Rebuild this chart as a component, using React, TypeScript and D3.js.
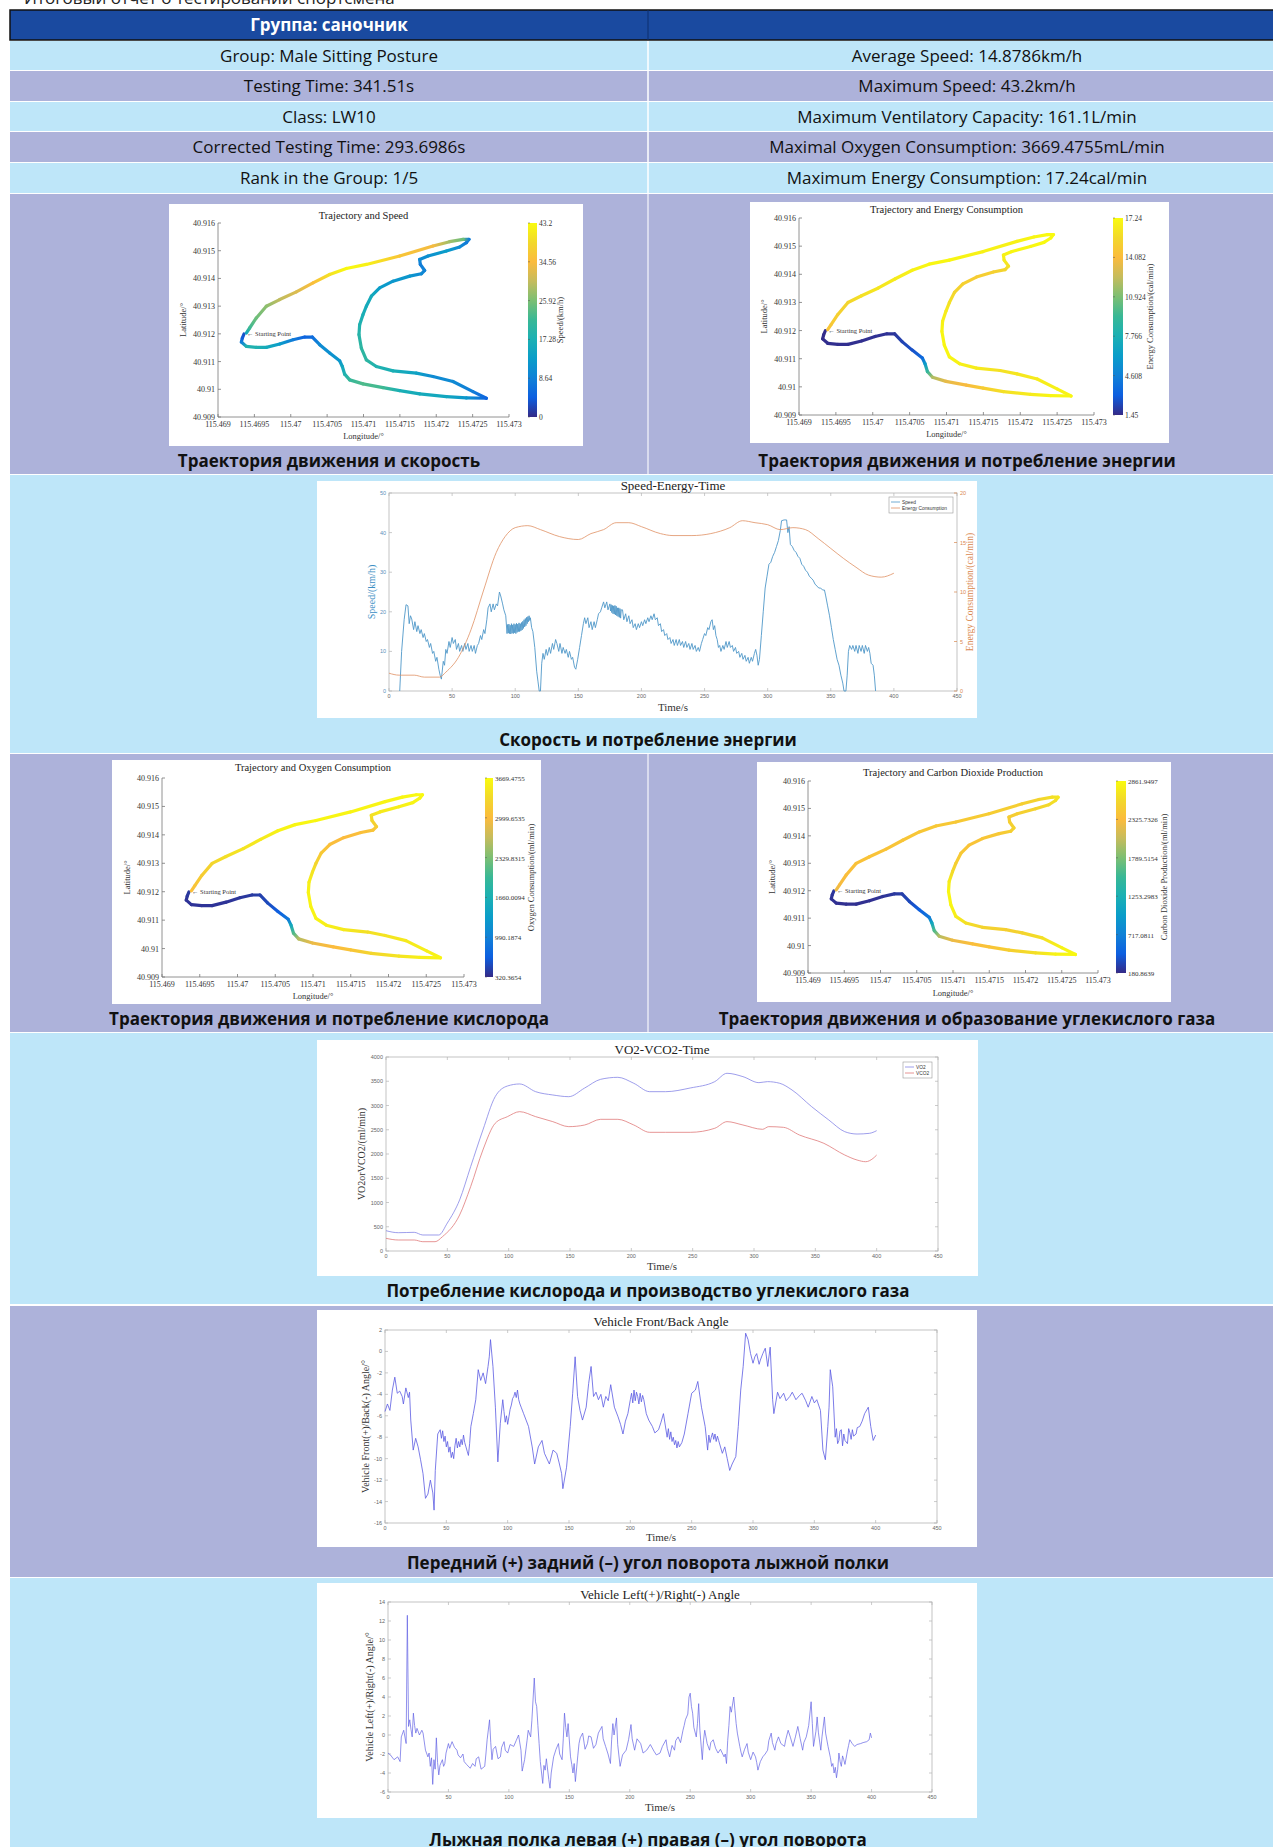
import * as d3 from "d3";

const W = 1273;
const H = 1847;

// ----------------------------- TABLE TEXT -----------------------------
const headerLeft = "Группа: саночник";
const infoLeft = [
  "Group: Male Sitting Posture",
  "Testing Time: 341.51s",
  "Class: LW10",
  "Corrected Testing Time: 293.6986s",
  "Rank in the Group: 1/5",
];
const infoRight = [
  "Average Speed: 14.8786km/h",
  "Maximum Speed: 43.2km/h",
  "Maximum Ventilatory Capacity: 161.1L/min",
  "Maximal Oxygen Consumption: 3669.4755mL/min",
  "Maximum Energy Consumption: 17.24cal/min",
];
const topCutText = "Итоговый отчёт о тестировании спортсмена";
const capTrajSpeed = "Траектория движения и скорость";
const capTrajEnergy = "Траектория движения и потребление энергии";
const capSpeedEnergy = "Скорость и потребление энергии";
const capTrajO2 = "Траектория движения и потребление кислорода";
const capTrajCO2 = "Траектория движения и образование углекислого газа";
const capVO2 = "Потребление кислорода и производство углекислого газа";
const capFrontBack = "Передний (+) задний (–) угол поворота лыжной полки";
const capLeftRight = "Лыжная полка левая (+) правая (–) угол поворота";

// ----------------------------- TRAJECTORY -----------------------------
const lonTicks = ["115.469", "115.4695", "115.47", "115.4705", "115.471", "115.4715", "115.472", "115.4725", "115.473"];
const latTicks = ["40.909", "40.91", "40.911", "40.912", "40.913", "40.914", "40.915", "40.916"];

const trackLon = [
  115.469357, 115.469334, 115.469321, 115.469389, 115.469527, 115.469664, 115.469848, 115.470031,
  115.470191, 115.470297, 115.470398, 115.470535, 115.470672, 115.470709, 115.470741, 115.47081,
  115.470993, 115.471268, 115.471497, 115.471772, 115.472139, 115.472414, 115.472689, 115.472505,
  115.47223, 115.471955, 115.471726, 115.471406, 115.471176, 115.471039, 115.47097, 115.470938,
  115.470947, 115.470993, 115.471039, 115.471108, 115.471222, 115.471406, 115.471635, 115.471795,
  115.471841, 115.471781, 115.471772, 115.471887, 115.472139, 115.472322, 115.472414, 115.47245,
  115.472368, 115.472184, 115.471955, 115.471497, 115.471039, 115.470764, 115.470535, 115.470306,
  115.470077, 115.469848, 115.469664, 115.469527, 115.469435, 115.469389,
];
const trackLat = [
  40.911994, 40.911849, 40.911704, 40.911547, 40.911511, 40.911511, 40.911632, 40.911789,
  40.911885, 40.911885, 40.911608, 40.911306, 40.911028, 40.910823, 40.910545, 40.91034,
  40.910195, 40.910062, 40.909954, 40.909833, 40.909736, 40.909688, 40.909676, 40.909917,
  40.91028, 40.910461, 40.910581, 40.910666, 40.910823, 40.911064, 40.911487, 40.91197,
  40.912332, 40.912694, 40.912996, 40.913358, 40.91366, 40.913901, 40.914082, 40.914167,
  40.914288, 40.914505, 40.914686, 40.914807, 40.914988, 40.915133, 40.91529, 40.91541,
  40.91541, 40.915326, 40.915169, 40.914807, 40.914505, 40.91436, 40.914143, 40.913841,
  40.913515, 40.913237, 40.912996, 40.912573, 40.912211, 40.91203,
];
const trackSpeed = [
  3, 4, 8, 18, 18, 16, 13, 8, 5, 6, 10, 11, 12, 15, 18, 21, 23, 22, 17, 16, 15, 12, 5, 8, 10, 10, 14, 17,
  18, 20, 20, 19, 18, 17, 16, 16, 13, 12, 12, 10, 9, 8, 10, 11, 13, 10, 8, 8, 25, 28, 34, 36, 42, 43, 40,
  35, 32, 30, 27, 25, 22, 15,
];
const trackEnergy = [
  1.5, 1.5, 1.5, 1.6, 1.6, 1.6, 1.6, 1.7, 1.7, 1.8, 2.2, 2.6, 3.5, 6, 9, 12, 13.5, 14, 15, 16, 16.5, 17,
  17, 16.8, 16.5, 16.3, 16, 16.5, 16.8, 17, 17, 17, 16.8, 16.5, 16, 15.5, 15.2, 15, 15.2, 15.5, 16, 16.5,
  16.8, 17, 17, 17.2, 17.2, 17.2, 17.2, 17, 16.8, 16.8, 17, 17, 16.8, 16.5, 16.3, 16, 15.5, 15.2, 14.8, 14.5,
];
const trackO2 = [
  420, 400, 380, 380, 380, 380, 380, 400, 420, 450, 520, 650, 900, 1500, 2100, 2600, 2900, 3000, 3100,
  3300, 3450, 3550, 3600, 3550, 3500, 3450, 3400, 3500, 3550, 3600, 3600, 3600, 3550, 3450, 3300, 3150,
  3050, 3000, 3050, 3100, 3200, 3300, 3400, 3500, 3550, 3600, 3620, 3650, 3650, 3620, 3600, 3600, 3620,
  3620, 3580, 3500, 3450, 3400, 3300, 3200, 3100, 3050,
];
const trackCO2 = [
  250, 230, 220, 210, 210, 210, 210, 230, 250, 280, 340, 450, 650, 1100, 1600, 2000, 2250, 2350, 2400,
  2500, 2650, 2800, 2840, 2800, 2650, 2550, 2500, 2550, 2650, 2750, 2820, 2820, 2750, 2600, 2500, 2450,
  2400, 2420, 2450, 2500, 2550, 2500, 2480, 2500, 2550, 2600, 2650, 2700, 2650, 2550, 2500, 2480, 2450,
  2450, 2430, 2420, 2400, 2400, 2380, 2350, 2300, 2250,
];

const speedBarTicks = ["0", "8.64", "17.28", "25.92", "34.56", "43.2"];
const energyBarTicks = ["1.45", "4.608", "7.766", "10.924", "14.082", "17.24"];
const o2BarTicks = ["320.3654", "990.1874", "1660.0094", "2329.8315", "2999.6535", "3669.4755"];
const co2BarTicks = ["180.8639", "717.0811", "1253.2983", "1789.5154", "2325.7326", "2861.9497"];

const parulaColors = [
  "#352a87", "#0d5fe0", "#1181d7", "#0a9dc9", "#1bb0b4", "#38b896",
  "#7cbf73", "#c5bc5d", "#fbbb3d", "#f2d82b", "#f9fb0e",
];

// ----------------------------- TIME SERIES -----------------------------
const timeTicks = [0, 50, 100, 150, 200, 250, 300, 350, 400, 450];
const speedTicks = [0, 10, 20, 30, 40, 50];
const energyTicks = [0, 5, 10, 15, 20];
const vo2Ticks = [0, 500, 1000, 1500, 2000, 2500, 3000, 3500, 4000];
const fbTicks = [-16, -14, -12, -10, -8, -6, -4, -2, 0, 2];
const lrTicks = [-6, -4, -2, 0, 2, 4, 6, 8, 10, 12, 14];

const speedSeries = [
  [8.5, 0], [10, 10], [12, 18], [13.5, 21.8], [15, 21.5], [16, 17], [17, 19], [18, 18.2], [19.5, 15.5], [20.5, 17.5],
  [22, 15], [23, 16.5], [24.5, 14.5], [25.5, 15.5], [27, 13.5], [28, 14.5], [29.5, 12.5], [30.5, 13], [32, 11], [33, 12],
  [34.5, 9.5], [35.5, 10], [37, 7.5], [38, 8.5], [39.5, 5.5], [40.5, 4], [41.5, 3], [43, 7.5], [44, 6.5], [45, 10.5],
  [46, 9.5], [47.5, 12.5], [48.5, 11], [50, 13.5], [51, 12], [52.5, 13], [53.5, 10.5], [55, 12], [56, 10], [57.5, 11.5],
  [58.5, 10], [60, 12], [61, 10.5], [62.5, 12], [63.5, 10], [65, 11.5], [66, 10], [67.5, 11.5], [68.5, 9.5], [70, 11.5],
  [71, 12], [72.5, 14], [73.5, 13], [75, 15.5], [76, 14.5], [77.5, 18], [78.5, 21], [80, 22], [81, 20], [82.5, 22],
  [83.5, 20.5], [85, 22], [86, 21.5], [87.5, 25], [88.5, 24], [90, 22], [91, 20.5], [92.5, 19], [93.5, 14.5],
  [94, 16.8], [94.5, 14.6], [95, 16.9], [95.5, 14.5], [96, 16.6], [96.5, 14.4], [97, 17], [97.5, 14.6], [98, 16.7],
  [98.5, 14.5], [99, 17], [99.5, 14.7], [100, 16.8], [100.5, 14.5], [101, 17.1], [101.5, 14.8], [102, 16.9], [102.5, 15],
  [103, 17.2], [103.5, 15], [104, 17], [104.5, 15.2], [105, 17.3], [105.5, 15.4], [106, 17.6], [106.5, 15.8], [107, 18],
  [107.5, 16.2], [108, 18.3], [108.5, 16.5], [109, 18.6], [109.5, 17], [110, 18.8], [110.5, 17.5], [111, 19], [111.5, 17.8],
  [112, 18.5], [113, 16], [114, 15], [115.5, 11], [117, 5], [118, 2.5],
  [119, 0], [120, 0], [121, 7], [122, 9.5], [123, 8], [124.5, 10.5], [125.5, 9], [127, 11], [128, 9.5], [129.5, 12],
  [130.5, 10.5], [132, 13], [133, 12], [134.5, 10], [135.5, 12], [137, 9.5], [138, 11], [139.5, 9.5], [140.5, 10.5],
  [142, 8.5], [143, 10], [144.5, 8], [145.5, 8.5], [147, 6], [148, 5.5], [149.5, 8], [151, 11], [152.5, 14], [154, 17],
  [155, 18.5], [156, 17], [157.5, 18.5], [158.5, 16], [160, 17.5], [161, 15.5], [162.5, 17.5], [163.5, 16], [165, 18],
  [166, 19.5], [167.5, 20], [168.5, 21], [170, 22.5], [171, 21], [172.5, 22.5], [173.5, 20.5], [175, 22], [175.5, 20.2],
  [176, 21.8], [176.5, 19.8], [177, 21.6], [177.5, 19.5], [178, 21.5], [178.5, 19.4], [179, 21.6], [179.5, 19.2],
  [180, 21.4], [180.5, 19], [181, 21], [181.5, 18.8], [182, 21], [182.5, 18.6], [183, 20.8], [183.5, 18.4], [184, 20.5],
  [185, 20.5], [186, 18], [187.5, 19.5], [188.5, 17.5], [190, 19], [191, 17], [192.5, 18], [193.5, 16], [195, 17],
  [196, 15.5], [197.5, 17], [198.5, 16],
  [200, 17.5], [201, 16.5], [202.5, 18], [203.5, 17], [205, 18.5], [206, 17.5], [207.5, 19], [208.5, 18], [210, 19.5],
  [211, 18], [212.5, 18.5], [213.5, 16.5], [215, 17], [216, 15], [217.5, 15.5], [218.5, 14], [220, 14.5], [221, 13],
  [222.5, 13.5], [223.5, 12], [225, 13], [226, 11.5], [227.5, 13], [228.5, 11.5], [230, 13], [231, 11.5], [232.5, 12.5],
  [233.5, 11], [235, 12.5], [236, 11], [237.5, 12], [238.5, 10.5], [240, 12], [241, 10.5], [242.5, 11.5], [243.5, 10],
  [245, 11], [246, 10], [247.5, 12], [248.5, 13], [250, 14.5], [251, 14], [252.5, 16], [253.5, 15.5], [255, 17.5],
  [256, 18], [257, 15.5], [258, 16.5], [259, 14], [260, 13], [261, 11], [262, 11.5], [263, 10], [264.5, 11.5],
  [265.5, 10.5], [267, 12.5], [268, 11], [269.5, 12.5], [270.5, 11], [272, 11.5], [273, 10], [274.5, 11], [275.5, 9.5],
  [277, 10], [278, 8.5], [279.5, 9.5], [280.5, 8], [282, 9], [283, 7.5], [284.5, 8.5], [285.5, 7], [287, 8.5], [288, 7.5],
  [289.5, 9.5], [290.5, 10.5], [291.5, 9], [292.5, 6.5], [293.5, 8], [295, 14], [296.5, 20], [298, 26], [299.5, 29],
  [301, 32], [302.5, 32.5], [304, 34], [305.5, 35], [307, 36.5], [308.5, 38], [310, 40.5], [311, 43], [313, 43.2],
  [315, 43.2], [316, 40], [317, 41.5], [318, 37], [319.5, 36.5], [321, 35.5], [322.5, 35], [324, 34], [325.5, 33.5],
  [327, 32], [328.5, 31.5], [330, 30.5], [331.5, 30], [333, 29], [334.5, 28.5], [336, 28], [337.5, 27], [339, 26.5],
  [340.5, 26], [342, 26], [343.5, 25.5], [345, 25.5], [346, 24], [347.5, 21.5], [349, 19], [350.5, 16], [352, 13],
  [353.5, 10.5], [355, 8], [356.5, 6.5], [358, 4], [359.5, 2], [360.5, 0], [362, 0], [363, 4], [364, 10], [365, 11.5],
  [366.5, 10.5], [367.5, 11.5], [369, 10], [370, 11.5], [371.5, 9.5], [372.5, 11.5], [374, 10], [375, 11.5], [376.5, 9.5],
  [377.5, 11.5], [379, 10], [380, 11], [381, 9.5], [382, 7], [383.5, 6.5], [384.5, 4], [385.5, 0],
];

const energySeries = [
  [0, 1.8], [8, 1.6], [20, 1.6], [28, 1.4], [40, 1.4], [45, 1.9], [55, 3.4], [65, 6.2], [75, 10.2], [85, 14.0],
  [92, 15.6], [100, 16.5], [110, 16.7], [120, 16.3], [135, 15.6], [150, 15.3], [160, 15.9], [170, 16.3], [180, 17],
  [190, 17], [200, 16.6], [215, 15.9], [225, 15.7], [240, 15.7], [255, 15.9], [270, 16.5], [280, 17.2], [290, 17],
  [300, 16.8], [310, 16.3], [320, 16.5], [330, 16.3], [340, 15.4], [350, 14.4], [360, 13.4], [370, 12.5], [380, 11.7],
  [390, 11.5], [400, 11.9],
];

const vo2Series = [
  [0, 419], [10, 377], [23, 385], [30, 330], [43, 330], [50, 577], [60, 1052], [69, 1738], [79, 2495], [89, 3182],
  [99, 3402], [109, 3444], [122, 3285], [136, 3217], [149, 3182], [162, 3361], [175, 3540], [189, 3581], [202, 3458],
  [215, 3285], [228, 3285], [248, 3361], [268, 3492], [278, 3664], [291, 3595], [304, 3471], [311, 3492], [321, 3458],
  [331, 3320], [347, 2976], [361, 2701], [374, 2460], [384, 2412], [394, 2426], [400, 2481],
];
const vco2Series = [
  [0, 261], [10, 227], [23, 227], [30, 192], [40, 192], [46, 295], [60, 742], [69, 1326], [79, 2083], [89, 2633],
  [99, 2770], [109, 2873], [122, 2770], [136, 2667], [149, 2564], [162, 2598], [175, 2715], [189, 2715], [202, 2598],
  [215, 2447], [228, 2447], [248, 2447], [268, 2530], [278, 2667], [291, 2598], [307, 2509], [312, 2564], [324, 2550],
  [337, 2392], [357, 2220], [374, 1979], [384, 1876], [391, 1841], [397, 1908], [400, 1979],
];

const frontBackSeries = [
  [0, -5.6], [2, -4.9], [4, -5.5], [6, -3.6], [8, -2.4], [10, -3.9], [12, -3.7], [14, -4.2], [15, -4.9], [17, -3.4],
  [19, -4.3], [20, -3.8], [21, -6.4], [23, -9.2], [25, -8.1], [27, -8.9], [29, -10.1], [31, -11.4], [33, -13.7],
  [35, -13.3], [37, -12.0], [39, -13.2], [40, -14.8], [41, -11.1], [43, -7.7], [45, -7.3], [46, -8.1], [47, -7.4],
  [48, -8.4], [49, -7.9], [50, -8.9], [51, -8.4], [52, -9.4], [53, -8.9], [54, -9.9], [55, -9.4], [56, -10.0],
  [57, -8.8], [58, -8.1], [59, -9.0], [60, -8.4], [61, -8.9], [62, -8.2], [63, -8.7], [64, -7.8], [65, -8.5],
  [66, -8.9], [67, -9.3], [68, -9.7], [69, -8.6], [70, -7.0],
  [72, -5.8], [74, -4.5], [76, -1.7], [78, -2.7], [80, -2.0], [82, -3.0], [84, -1.4], [85, -0.5], [86, 1.1], [88, -1.4],
  [90, -5.2], [92, -10.3], [94, -6.7], [96, -4.5], [97, -5.6], [98, -6.6], [99, -6.0], [100, -6.8], [101, -6.1],
  [102, -5.4], [103, -5.0], [104, -4.4], [105, -4.2], [106, -3.8], [107, -4.3], [108, -3.6], [109, -4.5], [110, -4.9],
  [111, -5.2], [113, -5.8], [117, -7.0], [120, -8.9], [122, -10.5], [125, -8.9], [128, -8.3], [130, -9.5], [134, -10.5],
  [137, -9.2], [140, -9.5], [142, -10.4], [144, -11.4], [145, -12.8], [148, -10.8], [151, -7.0], [153, -3.9], [155, -0.5],
  [157, -4.2], [159, -5.5], [161, -6.4], [164, -5.2], [166, -3.0], [168, -1.4], [170, -4.2], [172, -3.8], [174, -4.5],
  [176, -4.0], [178, -5.2], [180, -4.2], [182, -4.6], [184, -3.1], [187, -5.2], [190, -6.1], [192, -6.8], [194, -7.7],
  [196, -6.5], [198, -5.8], [200, -4.5], [201, -3.9], [202, -4.8], [203, -3.6], [204, -4.6], [205, -3.8], [206, -4.2],
  [207, -4.9], [208, -3.9], [209, -4.7], [210, -4.1], [211, -4.5], [213, -5.8], [215, -6.4], [218, -7.0], [220, -7.6],
  [223, -7.3], [225, -6.6], [227, -5.8], [230, -8.0], [231, -7.2], [232, -8.2], [233, -7.5], [234, -8.4], [235, -8.0],
  [236, -8.7], [237, -8.3], [238, -9.0], [239, -8.4], [240, -8.9], [242, -8.5], [244, -7.7], [247, -5.8], [250, -3.9],
  [253, -3.6], [255, -2.8], [258, -5.2], [261, -7.0], [263, -9.2], [264, -7.8], [265, -8.5], [266, -8.0], [267, -7.6],
  [268, -8.2], [269, -7.7], [270, -8.4], [271, -7.9], [272, -8.3], [275, -9.5], [277, -8.9], [279, -10.0], [281, -11.1],
  [283, -10.5], [286, -9.8], [288, -7.0], [290, -3.6], [292, -1.4], [294, 1.7], [296, 1.1], [298, -0.2], [300, -1.1],
  [301.5, -0.5], [303, -0.2], [305, -1.2], [306, -0.8], [308, -0.2], [310, 0.3], [312, -1.4], [314, 0.4], [316, -4.5],
  [317, -5.8], [320, -3.8], [322, -4.4], [325, -3.9], [327, -4.6], [330, -4.2], [332, -3.8], [335, -4.5], [338, -4.1],
  [340, -3.9], [343, -4.6], [345, -5.2], [348, -4.2], [350, -4.8], [352, -4.5], [355, -5.5], [357, -9.2], [359, -10.1],
  [361, -7.0], [362, -5.2], [363, -1.7], [365, -3.3], [367, -8.0], [368, -7.2], [369, -8.6], [370, -8.3], [371, -7.4],
  [372, -7.3], [373, -8.8], [374, -7.7], [375, -8.3], [377, -8.6], [378, -7.2], [379, -7.6], [380, -8.2], [381, -7.3],
  [382, -7.9], [384, -7.7], [385, -7.1], [387, -7.0], [389, -6.5], [391, -5.8], [394, -5.2], [396, -7.0], [398, -8.3],
  [400, -7.8],
];

const leftRightSeries = [
  [0, -1.9], [2, -2.1], [5, -2.6], [8, -2.3], [10, -2.8], [11, -0.2], [13, 0.5], [15, -0.9], [16, 12.6], [17, 0.9],
  [18, 1.6], [19, 0.6], [20, -0.2], [21, 2.3], [22, 1.0], [23, 0.2], [24, 0.7], [26, 0.0], [28, 0.5], [29, 0.2],
  [31, -1.6], [33, -2.3], [34, -1.9], [35, -3.3], [36, -2.4], [37, -5.2], [38, -2.6], [39, -3.6], [40, -0.3], [41, -2.9],
  [42, -4.2], [43, -3.2], [45, -2.6], [46, -3.3], [47, -3.0], [48, -1.9], [50, -0.9], [51, -1.4], [53, -0.7], [55, -1.3],
  [57, -1.6], [58, -2.1], [60, -2.4], [62, -2.0], [63, -2.8], [65, -3.1], [68, -3.5], [70, -3.0], [72, -3.3], [73, -2.5],
  [75, -2.3], [77, -3.6], [80, -3.3], [81, -2.0], [82, -0.5], [84, 1.6], [85, -0.8], [86, -2.6], [87, -1.5], [89, -1.2],
  [91, -2.5], [93, -2.3], [94, -1.3], [96, -0.7], [97, -1.6], [99, -1.9], [101, -1.0], [104, -1.2], [106, -0.6],
  [108, 0.0], [110, -1.6], [111, -3.8], [112, -3.2], [113, -2.6], [115, -0.6], [116, 0.5], [118, -0.2], [119, 1.5],
  [121, 6.0], [122, 3.5], [123, 3.0], [124, 1.0], [125, -0.9], [126, -2.8], [128, -5.1], [129, -3.2], [130, -3.7],
  [131, -2.5], [133, -4.7], [134, -5.6], [135, -4.0], [137, -2.3], [139, -1.5], [141, -0.9], [142, -2.0], [144, -2.6],
  [145, -0.4], [146, 2.3], [147, 0.8], [148, -0.2], [149, 1.2], [151, -2.3], [152, -3.1], [153, -4.0], [154, -3.0],
  [155, -4.9], [157, -2.2], [158, -0.9], [159, -0.3], [161, 0.2], [163, -1.5], [165, -0.9], [166, -0.1], [168, -0.2],
  [170, -1.4], [172, -1.0], [174, 0.2], [177, 0.9], [178, -0.4], [180, -1.2], [182, -2.0], [184, -3.0], [185, -0.5],
  [186, 1.2], [187, 0.0], [189, 1.8], [190, -1.0], [192, -3.3], [194, -2.1], [197, -1.6], [199, -0.5], [201, 1.1],
  [202, -0.4], [204, -1.6], [206, -0.4], [209, -0.9], [211, -1.9], [214, -1.6], [217, -1.0], [220, -1.7], [222, -2.1],
  [225, -1.9], [227, -1.2], [230, -0.5], [231, -1.4], [233, -2.3], [235, -1.1], [237, -1.6], [238, -0.6], [240, -0.2],
  [242, -0.8], [244, 0.5], [245, 1.0], [246, 1.6], [248, 2.2], [249, 4.0], [250, 4.4], [251, 3.0], [252, 2.3],
  [253, 0.8], [255, -0.2], [256, 1.2], [257, 3.3], [258, 0.5], [260, -2.6], [261, -0.6], [262, 0.5], [264, -0.9],
  [266, -1.6], [267, -0.8], [269, -0.5], [271, -1.4], [273, -1.9], [275, -1.5], [278, -2.3], [279, -2.0], [280, -3.0],
  [281, -0.6], [282, 1.0], [283, 3.0], [284, 2.4], [286, 4.0], [287, 2.6], [288, 1.2], [289, 0.2], [291, -1.2],
  [292, -1.8], [293, -2.3], [295, -1.5], [297, -0.9], [298, -1.8], [300, -2.6], [302, -1.8], [304, -2.3], [305, -2.9],
  [306, -3.7], [308, -2.8], [310, -2.3], [312, -2.0], [314, -1.6], [315, -0.6], [317, 0.2], [318, -0.8], [320, -1.6],
  [321, -0.9], [323, -0.2], [325, -0.9], [328, -1.2], [329, -0.5], [331, 0.5], [333, -0.3], [335, -1.2], [337, -0.2],
  [339, 0.9], [341, -0.4], [343, -1.6], [344, -0.8], [346, -0.2], [348, 1.0], [350, 3.5], [351, 1.2], [352, -1.2],
  [354, 0.4], [355, 1.9], [356, 0.3], [358, -1.6], [359, -0.2], [361, 1.9], [362, 0.2], [364, -1.2], [366, -2.4],
  [367, -3.3], [368, -3.0], [369, -4.0], [370, -3.4], [371, -4.5], [372, -3.6], [373, -1.9], [374, -2.8], [375, -3.3],
  [376, -2.2], [377, -2.6], [378, -3.1], [380, -1.7], [381, -1.1], [382, -0.5], [384, -0.9], [386, -1.2], [388, -1.0],
  [391, -0.9], [393, -0.8], [396, -0.7], [398, -0.5], [399, 0.2], [400, -0.3],
];

// ----------------------------- STYLE -----------------------------
const LB = "#bee6f9";
const LAV = "#adb2da";
const HDR = "#1a4aa0";
const SANS = "'Open Sans', 'Noto Sans', sans-serif";
const SERIF = "'Liberation Serif', 'DejaVu Serif', serif";
const TINY = "'Liberation Sans', Arial, sans-serif";

const parula = d3
  .scaleLinear<string>()
  .domain(parulaColors.map((_, i) => i / (parulaColors.length - 1)))
  .range(parulaColors)
  .interpolate(d3.interpolateRgb);

// ----------------------------- TRAJECTORY CHART -----------------------------
function TrajChart({ cfg, values, bar, title, barLabel }: any) {
  const x = d3.scaleLinear().domain([+lonTicks[0], +lonTicks[lonTicks.length - 1]]).range([cfg.left, cfg.right]);
  const y = d3.scaleLinear().domain([+latTicks[0], +latTicks[latTicks.length - 1]]).range([cfg.bottom, cfg.top]);
  const vmin = +bar[0];
  const vmax = +bar[bar.length - 1];
  const norm = d3.scaleLinear().domain([vmin, vmax]).range([0, 1]).clamp(true);
  const col = (v: number) => parula(norm(v));
  const by = d3.scaleLinear().domain([vmin, vmax]).range([cfg.bottom, cfg.top]);
  const pts = trackLon.map((lon, i) => [x(lon), y(trackLat[i])]);
  const [bx0, by0, bx1, by1] = cfg.box;
  const cx = (cfg.left + cfg.right) / 2;
  const cy = (cfg.top + cfg.bottom) / 2;

  return (
    <g>
      <rect x={bx0} y={by0} width={bx1 - bx0} height={by1 - by0} fill="#fff" />
      <defs>
        {pts.slice(1).map((p, i) => (
          <linearGradient
            key={i}
            id={`${cfg.id}-s${i}`}
            gradientUnits="userSpaceOnUse"
            x1={pts[i][0]}
            y1={pts[i][1]}
            x2={p[0]}
            y2={p[1]}
          >
            <stop offset="0" stopColor={col(values[i])} />
            <stop offset="1" stopColor={col(values[i + 1])} />
          </linearGradient>
        ))}
        <linearGradient id={`${cfg.id}-bar`} x1="0" y1="1" x2="0" y2="0">
          {parulaColors.map((c, i) => (
            <stop key={i} offset={i / (parulaColors.length - 1)} stopColor={c} />
          ))}
        </linearGradient>
      </defs>

      <text x={cx} y={cfg.titleY} textAnchor="middle" fontFamily={SERIF} fontSize={10.5} fill="#222">
        {title}
      </text>

      {/* axes */}
      <line x1={cfg.left} x2={cfg.left} y1={cfg.top} y2={cfg.bottom} stroke="#777" strokeWidth={0.8} />
      <line x1={cfg.left} x2={cfg.right} y1={cfg.bottom} y2={cfg.bottom} stroke="#777" strokeWidth={0.8} />
      {latTicks.map((t) => (
        <g key={t}>
          <line x1={cfg.left} x2={cfg.left + 3} y1={y(+t)} y2={y(+t)} stroke="#777" strokeWidth={0.8} />
          <text x={cfg.left - 3} y={y(+t) + 3} textAnchor="end" fontFamily={SERIF} fontSize={8} fill="#333">
            {t}
          </text>
        </g>
      ))}
      {lonTicks.map((t) => (
        <g key={t}>
          <line x1={x(+t)} x2={x(+t)} y1={cfg.bottom} y2={cfg.bottom - 3} stroke="#777" strokeWidth={0.8} />
          <text x={x(+t)} y={cfg.bottom + 10} textAnchor="middle" fontFamily={SERIF} fontSize={8} fill="#333">
            {t}
          </text>
        </g>
      ))}
      <text x={cx} y={cfg.xlabelY} textAnchor="middle" fontFamily={SERIF} fontSize={8.5} fill="#333">
        Longitude/°
      </text>
      <text
        transform={`translate(${cfg.ylabelX},${cy}) rotate(-90)`}
        textAnchor="middle"
        fontFamily={SERIF}
        fontSize={8.5}
        fill="#333"
      >
        Latitude/°
      </text>

      {/* track */}
      {pts.slice(1).map((p, i) => (
        <line
          key={i}
          x1={pts[i][0]}
          y1={pts[i][1]}
          x2={p[0]}
          y2={p[1]}
          stroke={`url(#${cfg.id}-s${i})`}
          strokeWidth={3.2}
          strokeLinecap="round"
        />
      ))}
      <text x={pts[0][0] + 3} y={pts[0][1] + 2} fontFamily={SERIF} fontSize={6.5} fill="#333">
        ← Starting Point
      </text>

      {/* colorbar */}
      <rect
        x={cfg.cb[0]}
        y={cfg.top}
        width={cfg.cb[1] - cfg.cb[0]}
        height={cfg.bottom - cfg.top}
        fill={`url(#${cfg.id}-bar)`}
      />
      {bar.map((t: string) => (
        <g key={t}>
          <line x1={cfg.cb[0]} x2={cfg.cb[0] + 2} y1={by(+t)} y2={by(+t)} stroke="#555" strokeWidth={0.5} />
          <text x={cfg.cb[1] + 2} y={by(+t) + 3} fontFamily={SERIF} fontSize={cfg.cbFont} fill="#333">
            {t}
          </text>
        </g>
      ))}
      <text
        transform={`translate(${cfg.cbLabelX},${cy}) rotate(-90)`}
        textAnchor="middle"
        fontFamily={SERIF}
        fontSize={8.5}
        fill="#333"
      >
        {barLabel}
      </text>
    </g>
  );
}

// ----------------------------- TIME CHART -----------------------------
function TimeChart({ cfg, yTicks, series, title, ylabel, ylabelColor, tickColor, right, legend }: any) {
  const x = d3.scaleLinear().domain([timeTicks[0], timeTicks[timeTicks.length - 1]]).range([cfg.left, cfg.right]);
  const y = d3.scaleLinear().domain([yTicks[0], yTicks[yTicks.length - 1]]).range([cfg.bottom, cfg.top]);
  const yr = right
    ? d3.scaleLinear().domain([right.ticks[0], right.ticks[right.ticks.length - 1]]).range([cfg.bottom, cfg.top])
    : null;
  const [ix0, iy0, ix1, iy1] = cfg.img;
  const cx = (cfg.left + cfg.right) / 2;
  const cy = (cfg.top + cfg.bottom) / 2;
  const axis = "#b5b5b5";

  const pathOf = (s: any) => {
    const sy = s.right ? yr : y;
    const gen = d3
      .line<number[]>()
      .x((d) => x(d[0]))
      .y((d) => sy!(d[1]));
    if (s.smooth) gen.curve(d3.curveMonotoneX);
    return gen(s.data) || "";
  };

  return (
    <g>
      <rect x={ix0} y={iy0} width={ix1 - ix0} height={iy1 - iy0} fill="#fff" />
      <rect
        x={cfg.left}
        y={cfg.top}
        width={cfg.right - cfg.left}
        height={cfg.bottom - cfg.top}
        fill="none"
        stroke={axis}
        strokeWidth={0.8}
      />
      {timeTicks.map((t) => (
        <g key={t}>
          <line x1={x(t)} x2={x(t)} y1={cfg.bottom} y2={cfg.bottom - 3} stroke={axis} strokeWidth={0.7} />
          <line x1={x(t)} x2={x(t)} y1={cfg.top} y2={cfg.top + 3} stroke={axis} strokeWidth={0.7} />
          <text x={x(t)} y={cfg.bottom + 7} textAnchor="middle" fontFamily={TINY} fontSize={5.5} fill="#666">
            {t}
          </text>
        </g>
      ))}
      {yTicks.map((t: number) => (
        <g key={t}>
          <line x1={cfg.left} x2={cfg.left + 3} y1={y(t)} y2={y(t)} stroke={axis} strokeWidth={0.7} />
          {!right && (
            <line x1={cfg.right} x2={cfg.right - 3} y1={y(t)} y2={y(t)} stroke={axis} strokeWidth={0.7} />
          )}
          <text x={cfg.left - 3} y={y(t) + 2} textAnchor="end" fontFamily={TINY} fontSize={5.5} fill={tickColor}>
            {t}
          </text>
        </g>
      ))}
      {right &&
        right.ticks.map((t: number) => (
          <g key={`r${t}`}>
            <line x1={cfg.right} x2={cfg.right - 3} y1={yr!(t)} y2={yr!(t)} stroke={right.color} strokeWidth={0.7} />
            <text x={cfg.right + 3} y={yr!(t) + 2} fontFamily={TINY} fontSize={5.5} fill={right.color}>
              {t}
            </text>
          </g>
        ))}
      {right && (
        <text
          transform={`translate(${cfg.right + 16},${cy}) rotate(-90)`}
          textAnchor="middle"
          fontFamily={SERIF}
          fontSize={9.5}
          fill={right.color}
        >
          {right.label}
        </text>
      )}

      {series.map((s: any, i: number) => (
        <path key={i} d={pathOf(s)} fill="none" stroke={s.color} strokeWidth={s.width || 0.8} />
      ))}

      <text x={cx} y={cfg.titleY} textAnchor="middle" fontFamily={SERIF} fontSize={13} fill="#222">
        {title}
      </text>
      <text x={cx} y={cfg.timeY} textAnchor="middle" fontFamily={SERIF} fontSize={11} fill="#333">
        Time/s
      </text>
      <text
        transform={`translate(${cfg.ylabelX},${cy}) rotate(-90)`}
        textAnchor="middle"
        fontFamily={SERIF}
        fontSize={10}
        fill={ylabelColor}
      >
        {ylabel}
      </text>

      {legend && (
        <g>
          <rect
            x={legend.box[0]}
            y={legend.box[1]}
            width={legend.box[2] - legend.box[0]}
            height={legend.box[3] - legend.box[1]}
            fill="#fff"
            stroke="#999"
            strokeWidth={0.6}
          />
          {legend.items.map((it: any, i: number) => {
            const ly = legend.box[1] + 5 + i * 6;
            return (
              <g key={it.label}>
                <line
                  x1={legend.box[0] + 2}
                  x2={legend.box[0] + 11}
                  y1={ly}
                  y2={ly}
                  stroke={it.color}
                  strokeWidth={0.8}
                />
                <text x={legend.box[0] + 13} y={ly + 1.8} fontFamily={TINY} fontSize={4.8} fill="#333">
                  {it.label}
                </text>
              </g>
            );
          })}
        </g>
      )}
    </g>
  );
}

// ----------------------------- LAYOUT -----------------------------
const trajA = { id: "ta", box: [169, 204, 583, 446], left: 218, top: 223, right: 509, bottom: 417, cb: [528, 537], ylabelX: 186, xlabelY: 439, titleY: 219, cbLabelX: 563, cbFont: 7.5 };
const trajB = { id: "tb", box: [750, 202, 1169, 443], left: 799, top: 218, right: 1094, bottom: 415, cb: [1113, 1123], ylabelX: 767, xlabelY: 437, titleY: 213, cbLabelX: 1153, cbFont: 7.5 };
const trajC = { id: "tc", box: [112, 760, 541, 1004], left: 162, top: 778, right: 464, bottom: 977, cb: [485, 493], ylabelX: 130, xlabelY: 999, titleY: 771, cbLabelX: 534, cbFont: 7 };
const trajD = { id: "td", box: [757, 762, 1171, 1002], left: 808, top: 781, right: 1098, bottom: 973, cb: [1116, 1126], ylabelX: 775, xlabelY: 996, titleY: 776, cbLabelX: 1167, cbFont: 7 };

const seCfg = { img: [317, 481, 977, 718], left: 389, top: 493, right: 957, bottom: 691, titleY: 490, timeY: 711, ylabelX: 375 };
const vCfg = { img: [317, 1040, 978, 1276], left: 386, top: 1057, right: 938, bottom: 1251, titleY: 1054, timeY: 1270, ylabelX: 365 };
const fbCfg = { img: [317, 1310, 977, 1547], left: 385, top: 1330, right: 937, bottom: 1523, titleY: 1326, timeY: 1541, ylabelX: 369 };
const lrCfg = { img: [317, 1583, 977, 1818], left: 388, top: 1602, right: 932, bottom: 1792, titleY: 1599, timeY: 1811, ylabelX: 373 };

const TX0 = 10;
const TX1 = 1286;
const DIV = 648;

export default function App() {
  const infoRows = [
    [41, 70, LB],
    [71, 101, LAV],
    [102, 131, LB],
    [132, 162, LAV],
    [163, 193, LB],
  ];
  const bands = [
    [194, 474, LAV, true],
    [475, 753, LB, false],
    [754, 1032, LAV, true],
    [1033, 1304, LB, false],
    [1306, 1577, LAV, false],
    [1578, 1860, LB, false],
  ];
  const midL = (TX0 + DIV) / 2;
  const midR = (DIV + TX1) / 2;
  const mid = (TX0 + TX1) / 2;
  const cap = (x: number, y: number, s: string) => (
    <text x={x} y={y} textAnchor="middle" fontFamily={SANS} fontWeight={700} fontSize={17} fill="#111">
      {s}
    </text>
  );

  return (
    <svg
      width={W}
      height={H}
      viewBox={`0 0 ${W} ${H}`}
      style={{ position: "absolute", left: 0, top: 0, display: "block", background: "#fff" }}
    >
      <text x={24} y={4} fontFamily={SANS} fontSize={17} fill="#222">
        {topCutText}
      </text>

      {/* header */}
      <rect x={TX0} y={10} width={TX1 - TX0} height={30} fill={HDR} stroke="#111" strokeWidth={1.5} />
      <line x1={DIV} x2={DIV} y1={10} y2={40} stroke="#0d2f6e" strokeWidth={1} />
      <text x={midL} y={31} textAnchor="middle" fontFamily={SANS} fontWeight={700} fontSize={17} fill="#fff">
        {headerLeft}
      </text>

      {/* info rows */}
      {infoRows.map(([y0, y1, fill]: any, i) => (
        <g key={i}>
          <rect x={TX0} y={y0} width={TX1 - TX0} height={y1 - y0} fill={fill} />
          <line x1={DIV} x2={DIV} y1={y0} y2={y1} stroke="#fff" strokeWidth={1.5} />
          <text x={midL} y={(y0 + y1) / 2 + 6} textAnchor="middle" fontFamily={SANS} fontSize={17} fill="#111">
            {infoLeft[i]}
          </text>
          <text x={midR} y={(y0 + y1) / 2 + 6} textAnchor="middle" fontFamily={SANS} fontSize={17} fill="#111">
            {infoRight[i]}
          </text>
        </g>
      ))}

      {/* chart bands */}
      {bands.map(([y0, y1, fill, split]: any, i) => (
        <g key={i}>
          <rect x={TX0} y={y0} width={TX1 - TX0} height={y1 - y0} fill={fill} />
          {split && <line x1={DIV} x2={DIV} y1={y0} y2={y1} stroke="#e8e8f4" strokeWidth={1.5} />}
        </g>
      ))}

      <TrajChart cfg={trajA} values={trackSpeed} bar={speedBarTicks} title="Trajectory and Speed" barLabel="Speed/(km/h)" />
      <TrajChart
        cfg={trajB}
        values={trackEnergy}
        bar={energyBarTicks}
        title="Trajectory and Energy Consumption"
        barLabel="Energy Consumption/(cal/min)"
      />
      {cap(midL, 467, capTrajSpeed)}
      {cap(midR, 467, capTrajEnergy)}

      <TimeChart
        cfg={seCfg}
        yTicks={speedTicks}
        tickColor="#5b8fb9"
        ylabel="Speed/(km/h)"
        ylabelColor="#3d8fc4"
        title="Speed-Energy-Time"
        series={[
          { data: speedSeries, color: "#4f97c8", width: 0.9 },
          { data: energySeries, color: "#df9163", width: 0.8, right: true, smooth: true },
        ]}
        right={{ ticks: energyTicks, color: "#d9884f", label: "Energy Consumption/(cal/min)" }}
        legend={{
          box: [889, 497, 953, 513],
          items: [
            { label: "Speed", color: "#4f97c8" },
            { label: "Energy Consumption", color: "#df9163" },
          ],
        }}
      />
      {cap(mid, 746, capSpeedEnergy)}

      <TrajChart
        cfg={trajC}
        values={trackO2}
        bar={o2BarTicks}
        title="Trajectory and Oxygen Consumption"
        barLabel="Oxygen Consumption/(ml/min)"
      />
      <TrajChart
        cfg={trajD}
        values={trackCO2}
        bar={co2BarTicks}
        title="Trajectory and Carbon Dioxide Production"
        barLabel="Carbon Dioxide Production/(ml/min)"
      />
      {cap(midL, 1025, capTrajO2)}
      {cap(midR, 1025, capTrajCO2)}

      <TimeChart
        cfg={vCfg}
        yTicks={vo2Ticks}
        tickColor="#666"
        ylabel="VO2orVCO2/(ml/min)"
        ylabelColor="#333"
        title="VO2-VCO2-Time"
        series={[
          { data: vo2Series, color: "#8585e6", smooth: true },
          { data: vco2Series, color: "#e07a7a", smooth: true },
        ]}
        legend={{
          box: [903, 1062, 932, 1078],
          items: [
            { label: "VO2", color: "#8585e6" },
            { label: "VCO2", color: "#e07a7a" },
          ],
        }}
      />
      {cap(mid, 1297, capVO2)}

      <TimeChart
        cfg={fbCfg}
        yTicks={fbTicks}
        tickColor="#666"
        ylabel="Vehicle Front(+)/Back(-) Angle/°"
        ylabelColor="#333"
        title="Vehicle Front/Back Angle"
        series={[{ data: frontBackSeries, color: "#5a5ae2", width: 0.8 }]}
      />
      {cap(mid, 1569, capFrontBack)}

      <TimeChart
        cfg={lrCfg}
        yTicks={lrTicks}
        tickColor="#666"
        ylabel="Vehicle Left(+)/Right(-) Angle/°"
        ylabelColor="#333"
        title="Vehicle Left(+)/Right(-) Angle"
        series={[{ data: leftRightSeries, color: "#6262e4", width: 0.7 }]}
      />
      {cap(mid, 1846, capLeftRight)}
    </svg>
  );
}
